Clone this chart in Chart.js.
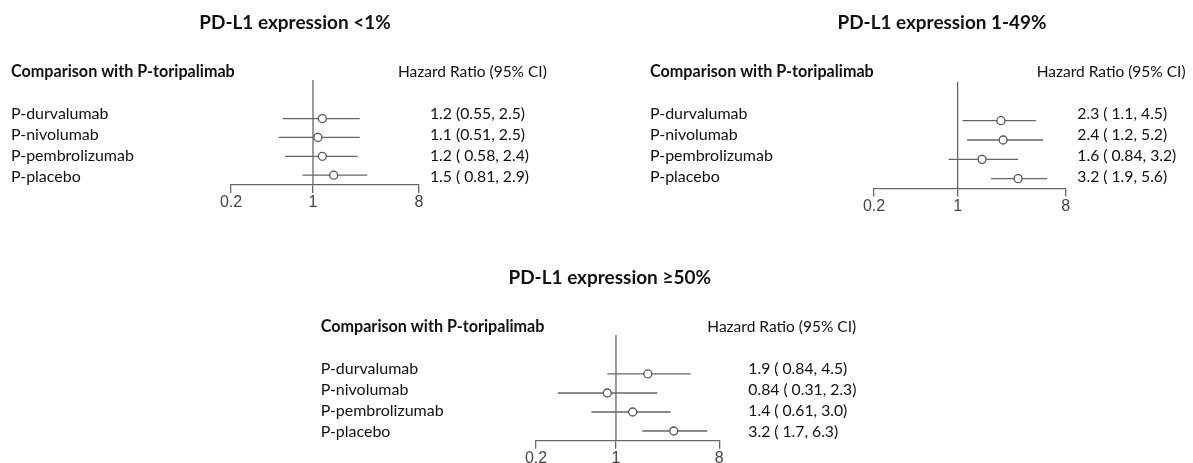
<!DOCTYPE html>
<html><head><meta charset="utf-8">
<script src="https://cdn.jsdelivr.net/npm/chart.js@4.4.0/dist/chart.umd.min.js"></script>
<style>
html,body{margin:0;padding:0;background:#fff;}
body{width:1193px;height:463px;position:relative;overflow:hidden;}
.p{position:absolute;}
</style></head><body>
<div class="p" style="left:0;top:0;width:600px;height:235px"><canvas id="c1"></canvas></div>
<div class="p" style="left:600px;top:0;width:593px;height:235px"><canvas id="c2"></canvas></div>
<div class="p" style="left:300px;top:250px;width:600px;height:213px"><canvas id="c3"></canvas></div>
<script>
// ---- data ----
const drugs = ['P-durvalumab', 'P-nivolumab', 'P-pembrolizumab', 'P-placebo'];
const xTicks = [0.2, 1, 8];
const xTickLabels = ['0.2', '1', '8'];
const refValue = 1;

const titles = ['PD-L1 expression <1%', 'PD-L1 expression 1-49%', 'PD-L1 expression \u226550%'];
const headLeft = 'Comparison with P-toripalimab';
const headRight = 'Hazard Ratio (95% CI)';

const hr1 = [1.2, 1.1, 1.2, 1.5];
const lo1 = [0.55, 0.51, 0.58, 0.81];
const hi1 = [2.5, 2.5, 2.4, 2.9];
const lab1 = ['1.2 (0.55, 2.5)', '1.1 (0.51, 2.5)', '1.2 ( 0.58, 2.4)', '1.5 ( 0.81, 2.9)'];

const hr2 = [2.3, 2.4, 1.6, 3.2];
const lo2 = [1.1, 1.2, 0.84, 1.9];
const hi2 = [4.5, 5.2, 3.2, 5.6];
const lab2 = ['2.3 ( 1.1, 4.5)', '2.4 ( 1.2, 5.2)', '1.6 ( 0.84, 3.2)', '3.2 ( 1.9, 5.6)'];

const hr3 = [1.9, 0.84, 1.4, 3.2];
const lo3 = [0.84, 0.31, 0.61, 1.7];
const hi3 = [4.5, 2.3, 3.0, 6.3];
const lab3 = ['1.9 ( 0.84, 4.5)', '0.84 ( 0.31, 2.3)', '1.4 ( 0.61, 3.0)', '3.2 ( 1.7, 6.3)'];

// ---- style ----
const LINE = '#666';
const TEXT = '#111';
const FONT = 'Lato';

// font size chosen so that a sample string spans the given pixel width
function fitSize(ctx, text, weight, width) {
  ctx.font = weight + ' 100px ' + FONT;
  return 100 * width / ctx.measureText(text).width;
}

const forestText = {
  id: 'forestText',
  afterDraw(chart, args, o) {
    const ctx = chart.ctx;
    const yT = chart.scales.yText;
    ctx.save();
    const sTitle = fitSize(ctx, o.title, 'bold', o.titleW);
    const sHeadL = fitSize(ctx, headLeft, 'bold', o.headLW);
    const sHeadR = fitSize(ctx, headRight, 'normal', o.headRW);
    const sRow = fitSize(ctx, drugs[2], 'normal', o.rowW);
    const sHr = fitSize(ctx, o.labels[2], 'normal', o.hrW);
    ctx.fillStyle = TEXT;
    ctx.textBaseline = 'middle';
    ctx.textAlign = 'center';
    ctx.font = 'bold ' + sTitle + 'px ' + FONT;
    ctx.fillText(o.title, o.titleX, o.titleY);
    ctx.textAlign = 'left';
    ctx.font = 'bold ' + sHeadL + 'px ' + FONT;
    ctx.fillText(headLeft, o.leftX, o.headY);
    ctx.font = 'normal ' + sHeadR + 'px ' + FONT;
    ctx.fillText(headRight, o.hazX, o.headY);
    drugs.forEach((d, i) => {
      const y = yT.getPixelForValue(i);
      ctx.font = 'normal ' + sRow + 'px ' + FONT;
      ctx.fillText(d, o.leftX, y);
      ctx.font = 'normal ' + sHr + 'px ' + FONT;
      ctx.fillText(o.labels[i], o.hrX, y);
    });
    ctx.restore();
  }
};

function makeForest(id, hr, lo, hi, labels, cfg) {
  const ciSets = drugs.map((d, i) => ({
    type: 'scatter', showLine: true, order: 2,
    data: [{x: lo[i], y: i}, {x: hi[i], y: i}],
    borderColor: LINE, borderWidth: 1.3, pointRadius: 0, pointHoverRadius: 0
  }));
  const refSet = {
    type: 'scatter', showLine: true, order: 3,
    data: [{x: refValue, y: cfg.yMin}, {x: refValue, y: cfg.yMax}],
    borderColor: LINE, borderWidth: 1.3, pointRadius: 0, clip: false
  };
  const ptSet = {
    type: 'scatter', order: 0,
    data: hr.map((v, i) => ({x: v, y: i})),
    pointStyle: 'circle', pointRadius: 4, pointBorderWidth: 1.3,
    borderColor: '#555', backgroundColor: '#fff'
  };
  return new Chart(document.getElementById(id), {
    type: 'scatter',
    data: {datasets: [ptSet, ...ciSets, refSet]},
    plugins: [forestText],
    options: {
      responsive: true, maintainAspectRatio: false, animation: false,
      layout: {padding: cfg.pad},
      plugins: {
        legend: {display: false}, tooltip: {enabled: false}, title: {display: false},
        forestText: Object.assign({labels: labels}, cfg.text)
      },
      scales: {
        x: {
          type: 'logarithmic', min: xTicks[0], max: xTicks[xTicks.length - 1],
          afterBuildTicks: s => { s.ticks = xTicks.map(v => ({value: v})); },
          afterFit: s => { s.height = cfg.axisH; },
          ticks: {
            callback: v => { const k = xTicks.indexOf(v); return k >= 0 ? xTickLabels[k] : ''; },
            font: {family: 'Liberation Sans', size: 16}, color: '#444',
            padding: 0, autoSkip: false, maxRotation: 0
          },
          grid: {drawOnChartArea: false, drawTicks: true, tickLength: 8, color: LINE, lineWidth: 1.3},
          border: {display: true, color: LINE, width: 1.3}
        },
        y: {type: 'linear', display: false, reverse: true, min: cfg.yMin, max: cfg.yMax},
        yText: {type: 'linear', display: false, reverse: true, min: cfg.tMin, max: cfg.tMax}
      }
    }
  });
}

const widths = {headLW: 224, headRW: 149, rowW: 123, hrW: 99};

makeForest('c1', hr1, lo1, hi1, lab1, {
  pad: {left: 231, right: 181, top: 80, bottom: 10}, axisH: 40,
  yMin: -2.04, yMax: 3.52, tMin: -1.65, tMax: 3.40,
  text: Object.assign({}, widths, {title: titles[0], titleW: 191.7, titleX: 295, titleY: 23.3, headY: 71.7, leftX: 11, hazX: 398, hrX: 430})
});
makeForest('c2', hr2, lo2, hi2, lab2, {
  pad: {left: 274, right: 127.3, top: 81.7, bottom: 6.5}, axisH: 40,
  yMin: -2.02, yMax: 3.51, tMin: -1.57, tMax: 3.57,
  text: Object.assign({}, widths, {title: titles[1], titleW: 209, titleX: 342, titleY: 23.3, headY: 71.7, leftX: 50, hazX: 436.7, hrX: 477.3})
});
makeForest('c3', hr3, lo3, hi3, lab3, {
  pad: {left: 236, right: 180.7, top: 85, bottom: 0}, axisH: 22.3,
  yMin: -2.05, yMax: 3.51, tMin: -1.65, tMax: 3.43,
  text: Object.assign({}, widths, {title: titles[2], titleW: 202.7, titleX: 309.7, titleY: 28.3, headY: 76.7, leftX: 20.7, hazX: 407.3, hrX: 448.3})
});
</script>
</body></html>
